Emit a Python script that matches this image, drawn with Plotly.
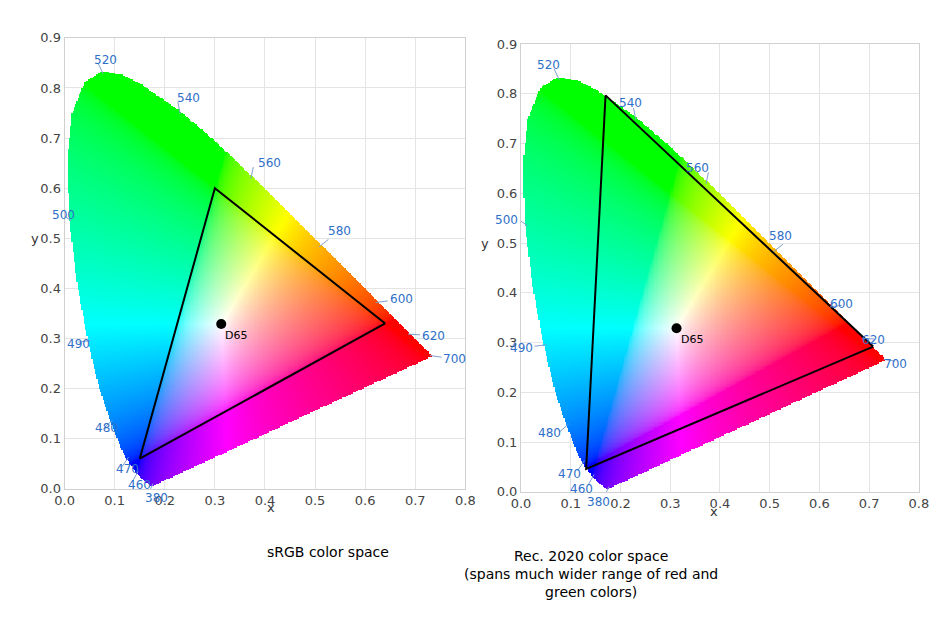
import numpy as np
import plotly.graph_objects as go

wl = [380,390,400,410,420,430,440,450,460,470,475,480,485,490,495,500,505,510,515,520,525,530,540,550,560,570,580,590,600,610,620,630,640,650,700]
lx = [0.1741,0.1738,0.1733,0.1726,0.1714,0.1689,0.1644,0.1566,0.1440,0.1241,0.1096,0.0913,0.0687,0.0454,0.0235,0.0082,0.0039,0.0139,0.0389,0.0743,0.1142,0.1547,0.2296,0.3016,0.3731,0.4441,0.5125,0.5752,0.6270,0.6658,0.6915,0.7079,0.7190,0.7260,0.7347]
ly = [0.0050,0.0049,0.0048,0.0048,0.0051,0.0069,0.0109,0.0177,0.0297,0.0578,0.0868,0.1327,0.2007,0.2950,0.4127,0.5384,0.6548,0.7502,0.8120,0.8338,0.8262,0.8059,0.7543,0.6923,0.6245,0.5547,0.4866,0.4242,0.3725,0.3340,0.3083,0.2920,0.2809,0.2740,0.2653]
labeled = [380,460,470,480,490,500,520,540,560,580,600,620,700]
srgb_x = [0.64,0.30,0.15]; srgb_y = [0.33,0.60,0.06]
rec_x = [0.708,0.170,0.131]; rec_y = [0.292,0.797,0.046]
wp = (0.3127, 0.329)
captions = ["sRGB color space", "Rec. 2020 color space<br>(spans much wider range of red and<br>green colors)"]

N = 0.0025
gx = np.arange(0, 0.8, N) + N/2
gy = np.arange(0, 0.9, N) + N/2
X, Y = np.meshgrid(gx, gy)
px, py = np.array(lx), np.array(ly)
inside = np.zeros(X.shape, bool)
n = len(px)
for i in range(n):
    x1, y1, x2, y2 = px[i], py[i], px[(i+1) % n], py[(i+1) % n]
    cond = ((y1 > Y) != (y2 > Y))
    with np.errstate(divide='ignore', invalid='ignore'):
        xi = x1 + (Y - y1) * (x2 - x1) / (y2 - y1)
    inside ^= cond & (X < xi)
XX = X / Y; ZZ = (1 - X - Y) / Y; YY = np.ones_like(X)
M = np.array([[3.2406,-1.5372,-0.4986],[-0.9689,1.8758,0.0415],[0.0557,-0.2040,1.0570]])
rgb = np.einsum('ij,jkl->kli', M, np.stack([XX, YY, ZZ]))
rgb = np.clip(rgb, 0, None)
rgb = rgb / rgb.max(axis=2, keepdims=True)
rgb = np.where(rgb <= 0.0031308, 12.92*rgb, 1.055*np.power(rgb, 1/2.4) - 0.055)
img = np.zeros(X.shape + (4,))
img[..., :3] = np.round(rgb * 255)
img[..., 3] = np.where(inside, 1, 0)

fig = go.Figure()
doms = [((0.060, 0.485), (0.227, 0.952)), ((0.544, 0.966), (0.220, 0.944))]
tris = [(srgb_x, srgb_y), (rec_x, rec_y)]
for k in range(2):
    xa = 'x' if k == 0 else 'x2'; ya = 'y' if k == 0 else 'y2'
    (xd, yd) = doms[k]
    tox = lambda v: xd[0] + (xd[1]-xd[0]) * v / 0.8
    toy = lambda v: yd[0] + (yd[1]-yd[0]) * v / 0.9
    fig.add_trace(go.Image(z=img, colormodel='rgba', x0=N/2, dx=N, y0=N/2, dy=N, xaxis=xa, yaxis=ya, hoverinfo='skip'))
    tx, ty = tris[k]
    fig.add_trace(go.Scatter(x=tx+[tx[0]], y=ty+[ty[0]], mode='lines', line=dict(color='black', width=2), xaxis=xa, yaxis=ya))
    fig.add_trace(go.Scatter(x=[wp[0]], y=[wp[1]], mode='markers', marker=dict(color='black', size=10), xaxis=xa, yaxis=ya))
    fig.add_annotation(x=wp[0], y=wp[1], text="D65", showarrow=False, xanchor='left', yanchor='top', xshift=2, yshift=-3,
                       font=dict(size=11, color='black'), xref=xa, yref=ya)
    for w in labeled:
        i = wl.index(w)
        dx, dy = lx[i] - wp[0], ly[i] - wp[1]
        L = np.hypot(dx, dy); dx, dy = dx/L, dy/L
        fig.add_trace(go.Scatter(x=[lx[i]-0.006*dx, lx[i]+0.018*dx], y=[ly[i]-0.006*dy, ly[i]+0.018*dy], mode='lines',
                                 line=dict(color='#7f9fcf', width=1), xaxis=xa, yaxis=ya, cliponaxis=False))
        fig.add_annotation(x=tox(lx[i]+0.045*dx), y=toy(ly[i]+0.045*dy), text=str(w), showarrow=False,
                           font=dict(size=12, color='#2f6fc8'), xref='paper', yref='paper', bgcolor='rgba(0,0,0,0)')
    axs = dict(showgrid=True, gridcolor='#e4e4e4', zeroline=False, showline=True, linecolor='#d0d0d0', mirror=True,
               tickformat='.1f', tickfont=dict(size=13, color='#444'), ticks='', automargin=False)
    fig.layout['xaxis' + ('' if k == 0 else '2')] = dict(axs, domain=xd, range=[0, 0.8], dtick=0.1, anchor=ya)
    fig.layout['yaxis' + ('' if k == 0 else '2')] = dict(axs, domain=yd, range=[0, 0.9], dtick=0.1, anchor=xa)
    fig.add_annotation(x=(xd[0]+xd[1])/2, y=yd[0]-0.045, xref='paper', yref='paper', text='x', showarrow=False,
                       font=dict(size=13, color='#333'))
    fig.add_annotation(x=xd[0]-0.038, y=(yd[0]+yd[1])/2 + 0.04, xref='paper', yref='paper', text='y', showarrow=False,
                       font=dict(size=13, color='#333'))
    fig.add_annotation(x=(xd[0]+xd[1])/2, y=yd[0] - 0.085, xref='paper', yref='paper', text=captions[k], showarrow=False,
                       yanchor='top', font=dict(size=14, color='black'))

fig.update_layout(width=943, height=622, margin=dict(l=0, r=0, t=0, b=0), showlegend=False,
                  plot_bgcolor='white', paper_bgcolor='white', font=dict(family='DejaVu Sans'))
fig.write_html("out.html")
